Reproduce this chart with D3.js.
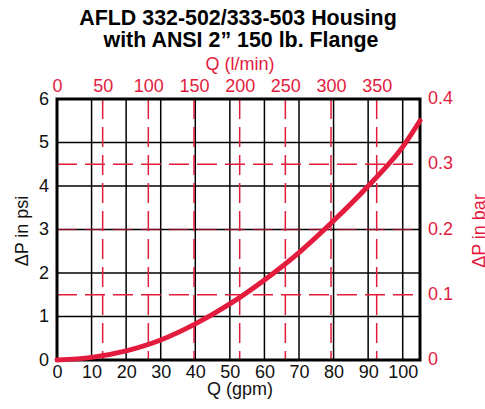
<html>
<meta charset="utf-8">
<style>
body { margin: 0; background: #fff; }
svg text { font-family: "Liberation Sans", Arial, Helvetica, sans-serif; }
.grid line { stroke: #000; stroke-width: 1.5px; }
.rgrid line { stroke: #e31b3d; stroke-width: 1.5px; stroke-dasharray: 20,8; }
.curve { fill: none; stroke: #e31b3d; stroke-width: 5px; stroke-linecap: round; }
</style>
<body>
<script src="https://d3js.org/d3.v7.min.js"></script>
<script>

// data
var gpmTicks = [0, 10, 20, 30, 40, 50, 60, 70, 80, 90, 100];
var lpmTicks = [0, 50, 100, 150, 200, 250, 300, 350];
var psiTicks = [0, 1, 2, 3, 4, 5, 6];
var barTicks = [0, 0.1, 0.2, 0.3, 0.4];
var flowGpm = [0, 10, 20, 30, 40, 50, 60, 70, 80, 90, 100, 105];
var dpPsi   = [0, 0.06, 0.21, 0.46, 0.83, 1.29, 1.84, 2.47, 3.2, 4.0, 4.9, 5.5];

var red = "#e31b3d";
var lpmPerGpm = 3.785;

var svg = d3.select("body").append("svg")
    .attr("width", 485)
    .attr("height", 409);

// set the ranges
var x = d3.scaleLinear().domain([0, 105]).range([57, 420]);
var xl = d3.scaleLinear().domain([0, 105 * lpmPerGpm]).range([57, 420]);
var y = d3.scaleLinear().domain([0, 6]).range([360, 99]);
var yb = d3.scaleLinear().domain([0, 0.4]).range([360, 99]);

// black grid
svg.append("g").attr("class", "grid")
  .selectAll("line").data(gpmTicks.slice(1)).enter().append("line")
    .attr("x1", function(d) { return x(d); }).attr("x2", function(d) { return x(d); })
    .attr("y1", y(0)).attr("y2", y(6));
svg.append("g").attr("class", "grid")
  .selectAll("line").data(psiTicks.slice(1, -1)).enter().append("line")
    .attr("x1", x(0)).attr("x2", x(105))
    .attr("y1", function(d) { return y(d); }).attr("y2", function(d) { return y(d); });

// red dashed grid (l/min and bar)
svg.append("g").attr("class", "rgrid")
  .selectAll("line").data(lpmTicks.slice(1)).enter().append("line")
    .attr("x1", function(d) { return xl(d); }).attr("x2", function(d) { return xl(d); })
    .attr("y1", y(6)).attr("y2", y(0));
svg.append("g").attr("class", "rgrid")
  .selectAll("line").data(barTicks.slice(1, -1)).enter().append("line")
    .attr("x1", x(0)).attr("x2", x(105))
    .attr("y1", function(d) { return yb(d); }).attr("y2", function(d) { return yb(d); })
    .style("opacity", function(d) { return Math.abs(d - 0.2) < 1e-9 ? 0.6 : 1; });

// frame
svg.append("rect")
    .attr("x", x(0)).attr("y", y(6))
    .attr("width", x(105) - x(0)).attr("height", y(0) - y(6))
    .attr("fill", "none").attr("stroke", "#000").attr("stroke-width", 3);

// the curve
var line = d3.line()
    .x(function(d, i) { return x(flowGpm[i]); })
    .y(function(d) { return y(d); })
    .curve(d3.curveMonotoneX);
svg.append("path").datum(dpPsi).attr("class", "curve").attr("d", line);

// axes
function strip(g) {
  g.select(".domain").remove();
  g.selectAll(".tick line").remove();
  g.selectAll("text").style("font-family", "'Liberation Sans', Arial, sans-serif");
}

svg.append("g")
    .attr("transform", "translate(0,360)")
    .call(d3.axisBottom(x).tickValues(gpmTicks).tickSize(0).tickPadding(0))
    .call(strip)
  .selectAll("text")
    .attr("y", 18).attr("dy", 0)
    .style("font-size", "18px").attr("fill", "#111");

svg.append("g")
    .attr("transform", "translate(0,99)")
    .call(d3.axisTop(xl).tickValues(lpmTicks).tickSize(0).tickPadding(0))
    .call(strip)
  .selectAll("text")
    .attr("y", -7).attr("dy", 0)
    .style("font-size", "18px").attr("fill", red);

svg.append("g")
    .attr("transform", "translate(49,0)")
    .call(d3.axisLeft(y).tickValues(psiTicks).tickSize(0).tickPadding(0)
      .tickFormat(d3.format("d")))
    .call(strip)
  .selectAll("text")
    .attr("dy", "0.3em")
    .style("font-size", "18px").attr("fill", "#111");

svg.append("g")
    .attr("transform", "translate(428,0)")
    .call(d3.axisRight(yb).tickValues(barTicks).tickSize(0).tickPadding(0)
      .tickFormat(function(d) { return d === 0 ? "0" : d.toFixed(1); }))
    .call(strip)
  .selectAll("text")
    .attr("dy", "0.25em")
    .style("font-size", "18px").attr("fill", red);

// titles
svg.append("text").attr("x", 238).attr("y", 25)
    .attr("text-anchor", "middle").style("font-size", "21.4px").style("font-weight", "bold")
    .text("AFLD 332-502/333-503 Housing");
svg.append("text").attr("x", 241).attr("y", 47)
    .attr("text-anchor", "middle").style("font-size", "21.4px").style("font-weight", "bold")
    .text("with ANSI 2\u201d 150 lb. Flange");

svg.append("text").attr("x", 240).attr("y", 70)
    .attr("text-anchor", "middle").style("font-size", "18px").attr("fill", red)
    .text("Q (l/min)");
svg.append("text").attr("x", 240).attr("y", 395)
    .attr("text-anchor", "middle").style("font-size", "18px").attr("fill", "#111")
    .text("Q (gpm)");

svg.append("text")
    .attr("transform", "translate(28,231) rotate(-90)")
    .attr("text-anchor", "middle").style("font-size", "18px").attr("fill", "#111")
    .text("\u0394P in psi");
svg.append("text")
    .attr("transform", "translate(485,231) rotate(-90)")
    .attr("text-anchor", "middle").style("font-size", "18px").attr("fill", red)
    .text("\u0394P in bar");

</script>
</body>
</html>
